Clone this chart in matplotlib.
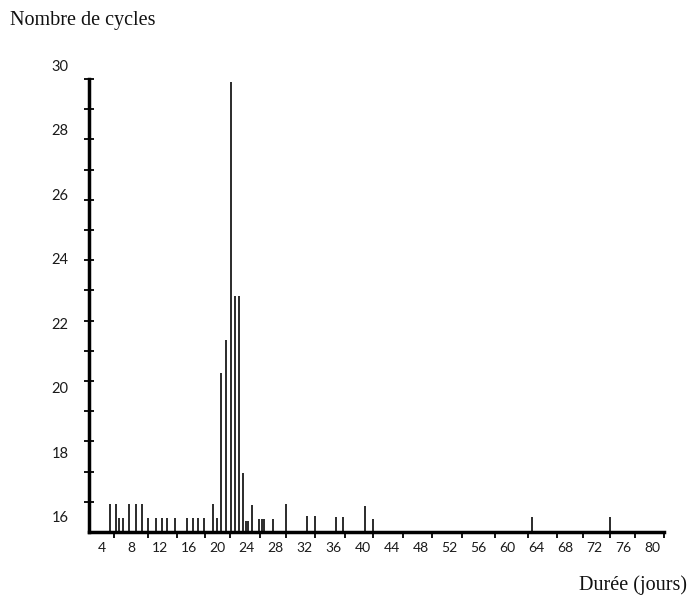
import matplotlib
matplotlib.use("Agg")
import matplotlib.pyplot as plt
import numpy as np

# Cycle durations (days) and bar tops on the y scale
durations = [5.11, 5.89, 6.39, 6.94, 7.77, 8.70, 9.53, 10.40, 11.46, 12.25,
             13.02, 14.09, 15.70, 16.62, 17.31, 18.09, 19.30, 19.92, 20.44, 21.13,
             21.76, 22.35, 22.97, 23.52, 23.90, 24.22, 24.77, 25.74, 26.07, 26.38,
             27.59, 29.42, 32.29, 33.43, 36.33, 37.30, 40.34, 41.45, 63.38, 74.19]
cycles = [15.94, 15.94, 15.47, 15.47, 15.94, 15.94, 15.94, 15.47, 15.47, 15.47,
          15.47, 15.47, 15.47, 15.47, 15.47, 15.47, 15.94, 15.47, 20.26, 21.36,
          29.91, 22.81, 22.81, 16.96, 15.37, 15.37, 15.89, 15.42, 15.42, 15.42,
          15.42, 15.92, 15.54, 15.54, 15.50, 15.50, 15.87, 15.42, 15.51, 15.50]

x_labels = list(range(4, 81, 4))
x_marks = [5.7, 10.36, 14.36, 18.23, 21.69, 25.83, 29.42, 33.43, 37.58, 41.45,
           45.59, 49.6, 53.74, 58.3, 62.86, 66.87, 70.46, 74.19, 77.65, 81.6]
y_labels = list(range(16, 31, 2))
y_marks = list(range(16, 31))

BASE = 15

fig = plt.figure(figsize=(6.88, 5.97), dpi=100)
ax = fig.add_axes([89 / 688, 1 - 532 / 597, (664 - 89) / 688, (532 - 79) / 597])
ax.set_xlim(2.2, 81.66)
ax.set_ylim(BASE, 30)

ax.vlines(durations, BASE, cycles, colors="#2b2b2b", linewidth=1.4, zorder=2)

for side in ("top", "right"):
    ax.spines[side].set_visible(False)
for side in ("left", "bottom"):
    ax.spines[side].set_linewidth(2.5)
    ax.spines[side].set_color("black")
    ax.spines[side].set_capstyle("projecting")

# x axis: labels without marks, small marks as minor ticks
ax.set_xticks(x_labels)
ax.set_xticklabels([str(v) for v in x_labels], family="Lato", fontsize=10,
                   color="#1a1a1a")
ax.set_xticks(x_marks, minor=True)
ax.tick_params(axis="x", which="major", length=0, pad=7)
ax.tick_params(axis="x", which="minor", length=4, width=1.3, direction="out",
               color="black")

# y axis: crossing marks, labels placed as text
ax.set_yticks(y_marks)
ax.tick_params(axis="y", which="major", direction="inout", length=7, width=1.3,
               labelleft=False, color="black")
trans = ax.get_yaxis_transform()
for v in y_labels:
    ypos = 30.40 - (30 - v) * 1.0673
    ax.text(-0.036, ypos, str(v), transform=trans, ha="right", va="center",
            family="Lato", fontsize=10.5, color="#1a1a1a", clip_on=False)

fig.text(10 / 688, 1 - 20 / 597, "Nombre de cycles", family="Liberation Serif",
         fontsize=14.5, ha="left", va="center", color="#111111")
fig.text(687 / 688, 1 - 585 / 597, "Durée (jours)", family="Liberation Serif",
         fontsize=14.5, ha="right", va="center", color="#111111")

fig.savefig("out.png", dpi=100)
